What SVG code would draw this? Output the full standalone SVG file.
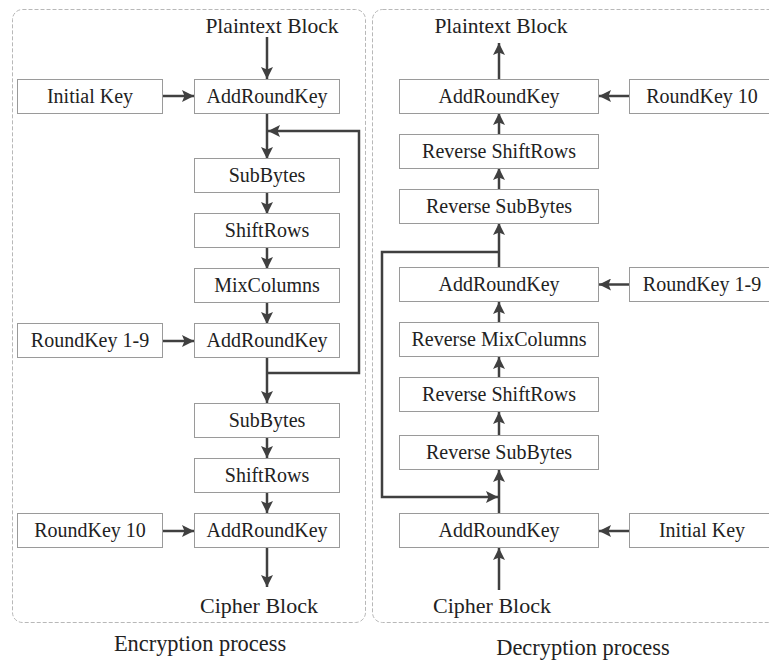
<svg xmlns="http://www.w3.org/2000/svg" width="769" height="665" viewBox="0 0 769 665">
<defs>
<marker id="ah" viewBox="0 0 12 12" refX="12" refY="6" markerWidth="12" markerHeight="12" markerUnits="userSpaceOnUse" orient="auto">
<path d="M0,0 L12,6 L0,12 L2.5,6 z" fill="#404040"/>
</marker>
<style>
.panel{fill:none;stroke:#b8b8b8;stroke-width:1;stroke-dasharray:4 2}
.box{fill:#fff;stroke:#9a9a9a;stroke-width:1}
.t{font-family:"Liberation Serif","Times New Roman",serif;font-size:20px;fill:#222;text-anchor:middle}
.big{font-family:"Liberation Serif","Times New Roman",serif;font-size:22px;fill:#222;text-anchor:middle}
.c{fill:none;stroke:#404040;stroke-width:2.5}
.a{marker-end:url(#ah)}
</style>
</defs>
<rect class="panel" x="12.5" y="9.5" width="353" height="613" rx="10"/>
<rect class="panel" x="372.5" y="9.5" width="420" height="613" rx="10"/>
<text class="big" x="272" y="33" style="font-size:21.5px">Plaintext Block</text>
<text class="big" x="259" y="613">Cipher Block</text>
<text class="big" x="501" y="33" style="font-size:21.5px">Plaintext Block</text>
<text class="big" x="492" y="613">Cipher Block</text>
<text class="big" x="200" y="651" style="font-size:22.4px">Encryption process</text>
<text class="big" x="583" y="655" style="font-size:22.4px">Decryption process</text>
<g id="connectors">
<path class="c a" d="M267,37 V79"/>
<path class="c a" d="M163,96 H194"/>
<path class="c a" d="M267,113 V159"/>
<path class="c a" d="M267,193 V214"/>
<path class="c a" d="M267,248 V269"/>
<path class="c a" d="M267,303 V324"/>
<path class="c a" d="M163,341 H194"/>
<path class="c a" d="M267,373 H359 V131 H268"/>
<path class="c a" d="M267,358 V403"/>
<path class="c a" d="M267,437 V458"/>
<path class="c a" d="M267,493 V513"/>
<path class="c a" d="M163,531 H194"/>
<path class="c a" d="M267,548 V587"/>
<path class="c a" d="M499,79 V43"/>
<path class="c a" d="M629,96 H599"/>
<path class="c a" d="M499,134 V113"/>
<path class="c a" d="M499,189 V168"/>
<path class="c a" d="M499,267 V223"/>
<path class="c a" d="M499,252 H382 V497 H498"/>
<path class="c a" d="M629,284.5 H599"/>
<path class="c a" d="M499,322 V302"/>
<path class="c a" d="M499,377 V357"/>
<path class="c a" d="M499,435 V412"/>
<path class="c a" d="M499,513 V470"/>
<path class="c a" d="M629,531 H599"/>
<path class="c a" d="M499,590 V548"/>
</g>
<g id="enc-initkey"><rect class="box" x="17.5" y="79.5" width="145" height="34"/><text class="t" x="90" y="103">Initial Key</text></g>
<g id="enc-ark0"><rect class="box" x="194.5" y="79.5" width="145" height="34"/><text class="t" x="267" y="103">AddRoundKey</text></g>
<g id="enc-sub1"><rect class="box" x="194.5" y="158.5" width="145" height="34"/><text class="t" x="267" y="182">SubBytes</text></g>
<g id="enc-shift1"><rect class="box" x="194.5" y="213.5" width="145" height="34"/><text class="t" x="267" y="237">ShiftRows</text></g>
<g id="enc-mix"><rect class="box" x="194.5" y="268.5" width="145" height="34"/><text class="t" x="267" y="292">MixColumns</text></g>
<g id="enc-rk19"><rect class="box" x="17.5" y="323.5" width="145" height="34"/><text class="t" x="90" y="347">RoundKey 1-9</text></g>
<g id="enc-ark1"><rect class="box" x="194.5" y="323.5" width="145" height="34"/><text class="t" x="267" y="347">AddRoundKey</text></g>
<g id="enc-sub2"><rect class="box" x="194.5" y="403.5" width="145" height="34"/><text class="t" x="267" y="427">SubBytes</text></g>
<g id="enc-shift2"><rect class="box" x="194.5" y="458.5" width="145" height="34"/><text class="t" x="267" y="482">ShiftRows</text></g>
<g id="enc-rk10"><rect class="box" x="17.5" y="513.5" width="145" height="34"/><text class="t" x="90" y="537">RoundKey 10</text></g>
<g id="enc-ark2"><rect class="box" x="194.5" y="513.5" width="145" height="34"/><text class="t" x="267" y="537">AddRoundKey</text></g>
<g id="dec-ark10"><rect class="box" x="399.5" y="79.5" width="199" height="34"/><text class="t" x="499" y="103">AddRoundKey</text></g>
<g id="dec-rk10"><rect class="box" x="629.5" y="79.5" width="146" height="34"/><text class="t" x="702" y="103">RoundKey 10</text></g>
<g id="dec-rshift1"><rect class="box" x="399.5" y="134.5" width="199" height="34"/><text class="t" x="499" y="158">Reverse ShiftRows</text></g>
<g id="dec-rsub1"><rect class="box" x="399.5" y="189.5" width="199" height="34"/><text class="t" x="499" y="213">Reverse SubBytes</text></g>
<g id="dec-ark19"><rect class="box" x="399.5" y="267.5" width="199" height="34"/><text class="t" x="499" y="291">AddRoundKey</text></g>
<g id="dec-rk19"><rect class="box" x="629.5" y="267.5" width="146" height="34"/><text class="t" x="702" y="291">RoundKey 1-9</text></g>
<g id="dec-rmix"><rect class="box" x="399.5" y="322.5" width="199" height="34"/><text class="t" x="499" y="346">Reverse MixColumns</text></g>
<g id="dec-rshift2"><rect class="box" x="399.5" y="377.5" width="199" height="34"/><text class="t" x="499" y="401">Reverse ShiftRows</text></g>
<g id="dec-rsub2"><rect class="box" x="399.5" y="435.5" width="199" height="34"/><text class="t" x="499" y="459">Reverse SubBytes</text></g>
<g id="dec-ark0"><rect class="box" x="399.5" y="513.5" width="199" height="34"/><text class="t" x="499" y="537">AddRoundKey</text></g>
<g id="dec-initkey"><rect class="box" x="629.5" y="513.5" width="146" height="34"/><text class="t" x="702" y="537">Initial Key</text></g>
</svg>
